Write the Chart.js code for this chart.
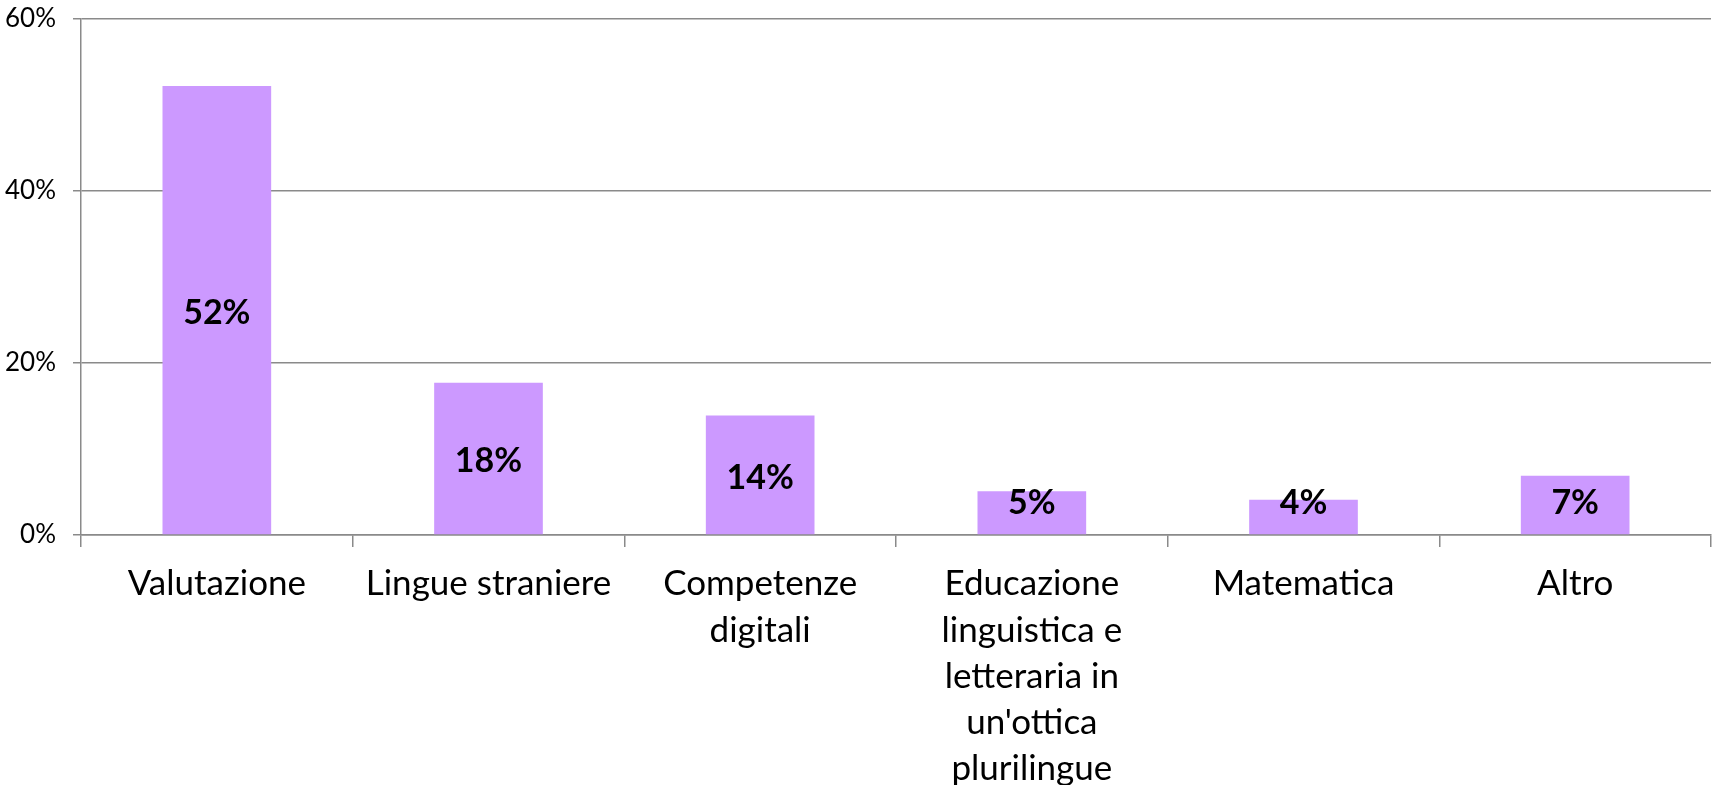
<!DOCTYPE html>
<html>
<head>
<meta charset="utf-8">
<script src="https://cdn.jsdelivr.net/npm/chart.js@4.4.0/dist/chart.umd.min.js"></script>
<style>
  html, body { margin: 0; padding: 0; background: #fff; }
  #wrap { width: 1712px; height: 785px; position: relative; }
</style>
</head>
<body>
<div id="wrap"><canvas id="c"></canvas></div>
<script>
// dati del grafico
const categories = [
    'Valutazione',
    'Lingue straniere',
    ['Competenze', 'digitali'],
    ['Educazione', 'linguistica e', 'letteraria in', "un'ottica", 'plurilingue'],
    'Matematica',
    'Altro'
];
const values = [52.2, 17.7, 13.9, 5.1, 4.1, 6.9];
const valueLabels = ['52%', '18%', '14%', '5%', '4%', '7%'];
const yTicks = [0, 20, 40, 60];

const gridColor = '#8a8a8a';
const fontFamily = 'Lato, "Liberation Sans", sans-serif';

// etichette dentro le barre
const barLabels = {
    id: 'barLabels',
    afterDatasetsDraw(chart) {
        const ctx = chart.ctx;
        const meta = chart.getDatasetMeta(0);
        ctx.save();
        ctx.font = 'bold 34px ' + fontFamily;
        ctx.fillStyle = '#000';
        ctx.textAlign = 'center';
        ctx.textBaseline = 'middle';
        meta.data.forEach((bar, i) => {
            let y = (bar.y + bar.base) / 2 + 3;
            y = Math.min(y, bar.base - 31);
            ctx.fillText(valueLabels[i], bar.x, y);
        });
        ctx.restore();
    }
};

const ctx = document.getElementById('c').getContext('2d');
new Chart(ctx, {
    type: 'bar',
    data: {
        labels: categories,
        datasets: [{
            data: values,
            backgroundColor: '#cc99ff',
            borderWidth: 0,
            barPercentage: 0.4,
            categoryPercentage: 1
        }]
    },
    options: {
        responsive: true,
        maintainAspectRatio: false,
        animation: false,
        layout: { padding: { top: 19, right: 1, left: 0, bottom: 0 } },
        plugins: {
            legend: { display: false },
            tooltip: { enabled: false }
        },
        scales: {
            y: {
                min: 0,
                max: 60,
                afterBuildTicks(scale) {
                    scale.ticks = yTicks.map(v => ({ value: v }));
                },
                afterFit(scale) {
                    scale.width = 81;
                    scale.paddingTop = 0;
                    scale.paddingBottom = 0;
                },
                ticks: {
                    callback: v => v + '%',
                    color: '#000',
                    padding: 17,
                    font: { family: fontFamily, size: 26 }
                },
                grid: {
                    color: gridColor,
                    lineWidth: 1.5,
                    tickLength: 8
                },
                border: { color: gridColor, width: 1.5 }
            },
            x: {
                afterFit(scale) { scale.height = 250; },
                ticks: {
                    color: '#000',
                    padding: 14,
                    maxRotation: 0,
                    autoSkip: false,
                    font: { family: fontFamily, size: 35, lineHeight: 1.32 }
                },
                grid: {
                    offset: true,
                    drawOnChartArea: false,
                    color: gridColor,
                    lineWidth: 1.5,
                    tickLength: 12
                },
                border: { color: gridColor, width: 1.5 }
            }
        }
    },
    plugins: [barLabels]
});
</script>
</body>
</html>
